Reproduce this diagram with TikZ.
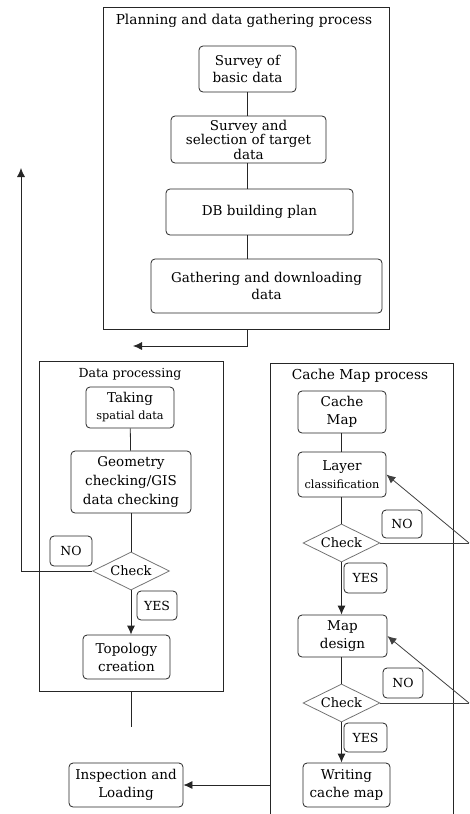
\documentclass[tikz,border=0pt]{standalone}
\usepackage{fontspec}
\setmainfont{DejaVu Serif}
\usetikzlibrary{shapes.geometric,arrows.meta}
\begin{document}
\begin{tikzpicture}[x=1pt,y=-1pt,
  box/.style={draw=black!85, line width=0.8pt, rounded corners=4pt, align=center, inner sep=0pt,
    font=\fontsize{13.5}{18}\selectfont},
  frame/.style={draw=black!85, line width=0.8pt, inner sep=0pt},
  lbl/.style={draw=black!85, line width=0.8pt, rounded corners=4pt, inner sep=0pt,
    font=\fontsize{12.5}{14}\selectfont},
  chk/.style={diamond, draw=black!55, line width=0.8pt, inner sep=0pt, aspect=2,
    minimum width=77pt, minimum height=38pt, font=\fontsize{13}{15}\selectfont},
  ttl/.style={font=\fontsize{13.7}{16}\selectfont, inner sep=0pt},
  con/.style={draw=black!85, line width=0.8pt},
  arr/.style={con, -{Latex[length=9pt,width=8pt]}},
  fb/.style={draw=black!75, line width=0.8pt},
]
\newcommand\smalltext[1]{{\fontsize{11.3}{17}\selectfont #1}}
\useasboundingbox (0,0) rectangle (469,814);

% ---- Planning and data gathering process
\node[frame, minimum width=286pt, minimum height=322pt] (plan) at (246,168) {};
\node[ttl] (t1) at (244,21) {Planning and data gathering process};
\node[box, minimum width=97pt, minimum height=46pt, font=\fontsize{13.5}{16.5}\selectfont] (s1) at (247.5,69) {Survey of\\basic data};
\node[box, minimum width=155pt, minimum height=47pt, font=\fontsize{13.5}{14.5}\selectfont] (s2) at (248.5,139.5) {Survey and\\selection of target\\data};
\node[box, minimum width=187pt, minimum height=46pt] (db) at (259.5,212) {DB building plan};
\node[box, minimum width=231pt, minimum height=54pt, font=\fontsize{13.5}{17}\selectfont] (ga) at (266.5,286) {Gathering and downloading\\data};
\coordinate (ax) at (247,0);
\draw[con] (s1.south -| ax) -- (s2.north -| ax);
\draw[con] (s2.south -| ax) -- (db.north -| ax);
\draw[con] (db.south -| ax) -- (ga.north -| ax);
\coordinate (p2) at (247,346);
\coordinate (p3) at (133,346);
\draw[arr] (plan.south -| p2) -- (p2) -- (p3);

% ---- Data processing
\node[frame, minimum width=184pt, minimum height=330pt] (dp) at (131,526) {};
\node[ttl, font=\fontsize{12.5}{15}\selectfont] (t2) at (130,374) {Data processing};
\node[box, minimum width=88pt, minimum height=41pt, font=\fontsize{13.5}{17}\selectfont] (tk) at (130,407.5) {Taking\\\smalltext{spatial data}};
\node[box, minimum width=120pt, minimum height=62pt, font=\fontsize{13.5}{19}\selectfont] (ge) at (131,482) {Geometry\\checking/GIS\\data checking};
\node[chk] (c1) at (131,571) {Check};
\node[lbl, minimum width=42pt, minimum height=30pt] (no1) at (71,551) {NO};
\node[lbl, minimum width=40pt, minimum height=29pt] (yes1) at (157,605.5) {YES};
\node[box, minimum width=87pt, minimum height=44pt] (to) at (126.5,657) {Topology\\creation};
\draw[con] (tk) -- (ge);
\draw[con] (ge) -- (c1);
\draw[arr] (c1.south) -- (c1.south |- to.north);
\coordinate (l1) at (21,571);
\coordinate (l2) at (21,168);
\draw[arr] (c1.west) -- (l1) -- (l2);
\coordinate (d1) at (131,727);
\draw[con] (dp.south) -- (d1);

% ---- Inspection
\node[box, minimum width=114pt, minimum height=44pt] (in) at (126,785) {Inspection and\\Loading};

% ---- Cache Map process
\draw[frame] (270,814) -- (270,363) -- (453,363) -- (453,814);
\node[ttl] (t3) at (360,376) {Cache Map process};
\node[box, minimum width=88pt, minimum height=42pt] (cm) at (342,412) {Cache\\Map};
\node[box, minimum width=88pt, minimum height=45pt] (la) at (342,474.5) {Layer\\\smalltext{classification}};
\node[chk] (c2) at (341.5,543) {Check};
\node[lbl, minimum width=40pt, minimum height=28pt] (no2) at (402,524) {NO};
\node[lbl, minimum width=43pt, minimum height=30pt] (yes2) at (365.5,578) {YES};
\node[box, minimum width=89pt, minimum height=42pt] (md) at (342.5,636) {Map\\design};
\node[chk] (c3) at (341.5,703) {Check};
\node[lbl, minimum width=40pt, minimum height=30pt] (no3) at (403,683) {NO};
\node[lbl, minimum width=43pt, minimum height=29pt] (yes3) at (365.5,737.5) {YES};
\node[box, minimum width=87pt, minimum height=44pt] (wr) at (346.5,785) {Writing\\cache map};
\draw[con] (c2.north |- cm.south) -- (c2.north |- la.north);
\draw[con] (c2.north |- la.south) -- (c2.north);
\draw[arr] (c2.south) -- (c2.south |- md.north);
\draw[con] (c3.north |- md.south) -- (c3.north);
\draw[arr] (c3.south) -- (c3.south |- wr.north);
\coordinate (r1) at (469,543);
\coordinate (r2) at (469,703);
\draw[fb] (c2.east) -- (r1);
\draw[fb, -{Latex[length=9pt,width=8pt]}] (r1) -- (la.east);
\draw[fb] (c3.east) -- (r2);
\draw[fb, -{Latex[length=9pt,width=8pt]}] (r2) -- (md.east);
\coordinate (k1) at (270,785);
\draw[arr] (k1) -- (in.east);
\end{tikzpicture}
\end{document}
